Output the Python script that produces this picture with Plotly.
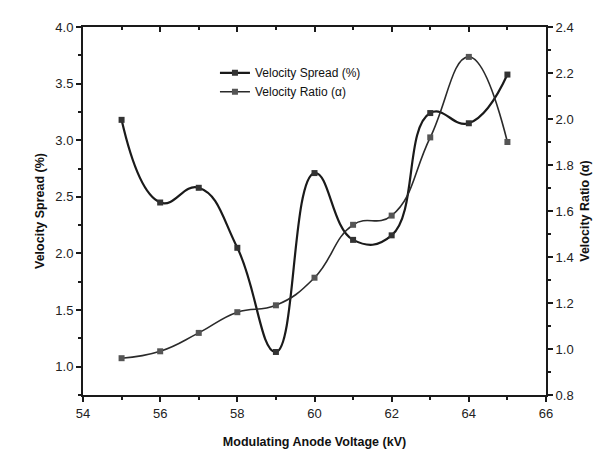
import plotly.graph_objects as go

voltage = [55, 56, 57, 58, 59, 60, 61, 62, 63, 64, 65]
velocity_spread = [3.18, 2.45, 2.58, 2.05, 1.13, 2.71, 2.12, 2.16, 3.24, 3.15, 3.58]
velocity_ratio = [0.96, 0.99, 1.07, 1.16, 1.19, 1.31, 1.54, 1.58, 1.92, 2.27, 1.90]

x_ticks = [54, 56, 58, 60, 62, 64, 66]
left_ticks = [1.0, 1.5, 2.0, 2.5, 3.0, 3.5, 4.0]
right_ticks = [0.8, 1.0, 1.2, 1.4, 1.6, 1.8, 2.0, 2.2, 2.4]

FONT = "Liberation Sans, Arial, sans-serif"
INK = "#1a1a1a"

fig = go.Figure()
fig.add_trace(go.Scatter(
    x=voltage, y=velocity_spread, name="Velocity Spread (%)",
    mode="lines+markers",
    line=dict(color=INK, width=2.2, shape="spline", smoothing=1.3),
    marker=dict(symbol="square", size=6, color="#333333"),
    yaxis="y"))
fig.add_trace(go.Scatter(
    x=voltage, y=velocity_ratio, name="Velocity Ratio (α)",
    mode="lines+markers",
    line=dict(color="#2a2a2a", width=1.6, shape="spline", smoothing=1.3),
    marker=dict(symbol="square", size=6, color="#555555"),
    yaxis="y2"))
# empty trace to show the top mirror axis with inward ticks
fig.add_trace(go.Scatter(x=[], y=[], xaxis="x2", yaxis="y", showlegend=False))

tickfont = dict(family=FONT, size=13, color="#222")
titlefont = dict(family=FONT, size=12.5, color="#111", weight="bold")

fig.update_layout(
    width=608, height=452,
    margin=dict(l=75, r=70, t=14, b=65),
    paper_bgcolor="white", plot_bgcolor="white",
    showlegend=True,
    legend=dict(x=0.285, y=0.915, xanchor="left", yanchor="top",
                bgcolor="rgba(0,0,0,0)", font=dict(family=FONT, size=12, color="#111"),
                tracegroupgap=0, itemwidth=30),
    xaxis=dict(range=[54, 66], tickvals=x_ticks, ticks="outside", ticklen=5,
               tickwidth=1.5, tickcolor=INK, showline=True, linecolor=INK, linewidth=2,
               showgrid=False, zeroline=False, tickfont=tickfont,
               minor=dict(dtick=1, ticks="outside", ticklen=3, tickcolor=INK),
               title=dict(text="Modulating Anode Voltage (kV)", font=titlefont, standoff=18)),
    xaxis2=dict(range=[54, 66], overlaying="x", side="top", anchor="y",
                tickvals=x_ticks, ticks="inside", ticklen=5, tickwidth=1.5,
                tickcolor=INK, showline=True, linecolor=INK, linewidth=2,
                showticklabels=False, showgrid=False, zeroline=False,
                minor=dict(dtick=1, ticks="inside", ticklen=3, tickcolor=INK)),
    yaxis=dict(range=[0.75, 4.0], tickvals=left_ticks, tickformat=".1f",
               ticks="outside", ticklen=5, tickwidth=1.5, tickcolor=INK,
               showline=True, linecolor=INK, linewidth=2, showgrid=False,
               zeroline=False, tickfont=tickfont,
               minor=dict(dtick=0.25, ticks="outside", ticklen=3, tickcolor=INK),
               title=dict(text="Velocity Spread (%)", font=titlefont, standoff=8)),
    yaxis2=dict(range=[0.8, 2.4], tickvals=right_ticks, tickformat=".1f",
                overlaying="y", side="right", anchor="x",
                ticks="outside", ticklen=5, tickwidth=1.5, tickcolor=INK,
                showline=True, linecolor=INK, linewidth=2, showgrid=False,
                zeroline=False, tickfont=tickfont,
                minor=dict(dtick=0.1, ticks="outside", ticklen=3, tickcolor=INK),
                title=dict(text="Velocity Ratio (α)", font=titlefont, standoff=8)),
)

fig.write_html("out.html")
